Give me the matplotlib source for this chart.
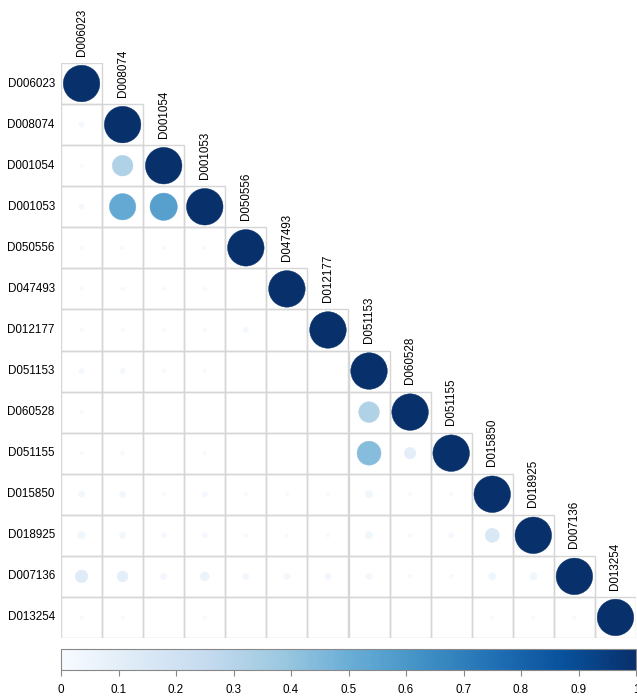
import numpy as np
import matplotlib.pyplot as plt
from matplotlib.patches import Circle, Rectangle
from matplotlib.colors import Normalize
from matplotlib.cm import ScalarMappable

plt.rcParams['font.family'] = ['Liberation Sans', 'DejaVu Sans']

labels = ['D006023', 'D008074', 'D001054', 'D001053', 'D050556', 'D047493',
          'D012177', 'D051153', 'D060528', 'D051155', 'D015850', 'D018925',
          'D007136', 'D013254']

# lower triangle, one row per variable (diagonal excluded)
lower = [
    [],
    [0.02],
    [0.01, 0.32],
    [0.02, 0.52, 0.56],
    [0.01, 0.01, 0.01, 0.01],
    [0.01, 0.01, 0.01, 0.01, 0.00],
    [0.01, 0.01, 0.01, 0.01, 0.02, 0.00],
    [0.02, 0.02, 0.01, 0.01, 0.00, 0.00, 0.00],
    [0.01, 0.00, 0.00, 0.00, 0.00, 0.00, 0.00, 0.32],
    [0.01, 0.01, 0.00, 0.01, 0.00, 0.00, 0.00, 0.43, 0.10],
    [0.03, 0.03, 0.01, 0.02, 0.01, 0.01, 0.01, 0.04, 0.01, 0.01],
    [0.04, 0.03, 0.02, 0.02, 0.01, 0.01, 0.01, 0.04, 0.01, 0.02, 0.15],
    [0.12, 0.09, 0.03, 0.06, 0.03, 0.03, 0.03, 0.03, 0.01, 0.01, 0.04, 0.04],
    [0.01, 0.01, 0.00, 0.01, 0.00, 0.00, 0.00, 0.00, 0.00, 0.00, 0.01, 0.01, 0.01],
]

n = len(labels)
corr = np.eye(n)
for i, row in enumerate(lower):
    for j, v in enumerate(row):
        corr[i, j] = corr[j, i] = v

cmap = plt.get_cmap('Blues')
norm = Normalize(0, 1)

W, H = 637, 697
fig = plt.figure(figsize=(W / 100, H / 100), dpi=100)
ax = fig.add_axes([61 / W, (H - 638) / H, 575 / W, 575 / H])
ax.set_xlim(-0.5, n - 0.5)
ax.set_ylim(n - 0.5, -0.5)
ax.set_aspect('equal')
ax.axis('off')

grid_col = '#d6d6d6'
for i in range(n):
    for j in range(i + 1):
        ax.add_patch(Rectangle((j - 0.5, i - 0.5), 1, 1, fill=False,
                               edgecolor=grid_col, lw=1.0, zorder=1))
        v = corr[i, j]
        if v <= 0:
            continue
        r = 0.445 * np.sqrt(abs(v))
        c = cmap(norm(v))
        ax.add_patch(Circle((j, i), r, facecolor=c, edgecolor=c, lw=0.3,
                            zorder=2))

for k, lab in enumerate(labels):
    ax.text(-0.65, k, lab, ha='right', va='center', fontsize=8.4,
            color='black', clip_on=False)
    ax.text(k, k - 0.68, lab, ha='center', va='bottom', rotation=90,
            fontsize=8.4, color='black', clip_on=False)

# colour legend along the bottom
cax = fig.add_axes([61 / W, (H - 670) / H, 575 / W, 21 / H])
cb = fig.colorbar(ScalarMappable(norm=norm, cmap=cmap), cax=cax,
                  orientation='horizontal')
ticks = np.round(np.arange(0, 1.01, 0.1), 1)
cb.set_ticks(ticks)
cb.set_ticklabels(['0' if t == 0 else '1' if t == 1 else f'{t:g}' for t in ticks])
cb.outline.set_edgecolor('#888888')
cb.outline.set_linewidth(0.8)
cax.tick_params(axis='x', length=4, width=0.8, color='#888888',
                labelsize=8.4, pad=6)

fig.savefig('out.png', dpi=100, facecolor='white')
